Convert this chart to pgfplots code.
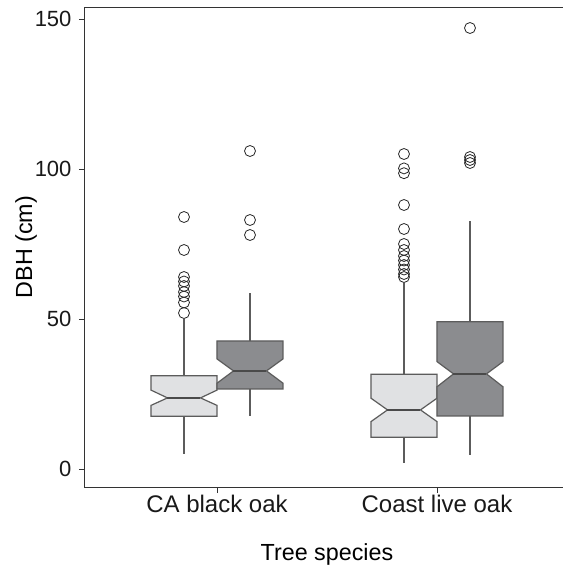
\documentclass[border=0pt]{standalone}
\usepackage{fontspec}
\setmainfont{Liberation Sans}
\usepackage{pgfplots}
\pgfplotsset{compat=1.18}
\definecolor{lightbox}{HTML}{E0E1E3}
\definecolor{darkbox}{HTML}{8B8C8F}
\definecolor{boxedge}{HTML}{5C5C5C}
\definecolor{medc}{HTML}{4A4A4A}
\definecolor{axisc}{HTML}{333333}
\begin{document}
\fontsize{22}{26}\selectfont
\begin{tikzpicture}
\begin{axis}[
  at={(0,0)}, anchor=south west,
  scale only axis, width=484pt, height=480pt,
  xmin=0.4, xmax=2.6, ymin=-6, ymax=154,
  xtick={1,2}, xticklabels={CA black oak, Coast live oak},
  ytick={0,50,100,150},
  tick align=outside, xtick pos=bottom, ytick pos=left,
  major tick length=6pt,
  axis line style={line width=1pt, color=axisc},
  tick style={line width=0.8pt, color=axisc},
  font=\fontsize{22}{26}\selectfont,
  yticklabel style={font=\fontsize{22}{26}\selectfont, color=black!90},
  xticklabel style={font=\fontsize{24}{28}\selectfont, color=black!90, anchor=base, yshift=-19pt},
  /pgf/number format/assume math mode=true,
  xlabel={Tree species}, ylabel={DBH (cm)},
  xlabel style={at={(axis description cs:0.5,0)}, anchor=base, yshift=-73pt, font=\fontsize{23.3}{27}\selectfont},
  ylabel style={at={(axis description cs:-0.1095,0.5)}, anchor=base, rotate=0, font=\fontsize{23.3}{27}\selectfont},
  clip=false,
]
% whiskers
\addplot[draw=boxedge, line width=1.2pt] coordinates {(0.85,31.1) (0.85,50)};
\addplot[draw=boxedge, line width=1.2pt] coordinates {(0.85,17.6) (0.85,5)};
\addplot[draw=boxedge, line width=1.2pt] coordinates {(1.15,42.7) (1.15,58.6)};
\addplot[draw=boxedge, line width=1.2pt] coordinates {(1.15,26.7) (1.15,17.7)};
\addplot[draw=boxedge, line width=1.2pt] coordinates {(1.85,31.6) (1.85,62)};
\addplot[draw=boxedge, line width=1.2pt] coordinates {(1.85,10.6) (1.85,2)};
\addplot[draw=boxedge, line width=1.2pt] coordinates {(2.15,49.1) (2.15,82.8)};
\addplot[draw=boxedge, line width=1.2pt] coordinates {(2.15,17.7) (2.15,4.7)};
% notched boxes
\addplot[fill=lightbox, draw=boxedge, line width=1.2pt] coordinates {(0.70,17.6) (1.00,17.6) (1.00,21.2) (0.925,23.7) (1.00,26.3) (1.00,31.1) (0.70,31.1) (0.70,26.3) (0.775,23.7) (0.70,21.2)} -- cycle;
\addplot[fill=darkbox, draw=boxedge, line width=1.2pt] coordinates {(1.00,26.7) (1.30,26.7) (1.30,28.6) (1.225,32.7) (1.30,36.7) (1.30,42.7) (1.00,42.7) (1.00,36.7) (1.075,32.7) (1.00,28.6)} -- cycle;
\addplot[fill=lightbox, draw=boxedge, line width=1.2pt] coordinates {(1.70,10.6) (2.00,10.6) (2.00,15.8) (1.925,19.7) (2.00,23.6) (2.00,31.6) (1.70,31.6) (1.70,23.6) (1.775,19.7) (1.70,15.8)} -- cycle;
\addplot[fill=darkbox, draw=boxedge, line width=1.2pt] coordinates {(2.00,17.7) (2.30,17.7) (2.30,27.4) (2.225,31.7) (2.30,35.8) (2.30,49.1) (2.00,49.1) (2.00,35.8) (2.075,31.7) (2.00,27.4)} -- cycle;
% medians
\addplot[draw=medc, line width=2pt] coordinates {(0.775,23.7) (0.925,23.7)};
\addplot[draw=medc, line width=2pt] coordinates {(1.075,32.7) (1.225,32.7)};
\addplot[draw=medc, line width=2pt] coordinates {(1.775,19.7) (1.925,19.7)};
\addplot[draw=medc, line width=2pt] coordinates {(2.075,31.7) (2.225,31.7)};
% outliers
\addplot[only marks, mark=o, mark size=5.5pt, mark options={draw=black!85, line width=0.8pt}] coordinates {
 (0.85,52) (0.85,55.5) (0.85,57.5) (0.85,59) (0.85,61) (0.85,62.5) (0.85,64) (0.85,73) (0.85,84)
 (1.15,78) (1.15,83) (1.15,106)
 (1.85,64) (1.85,65) (1.85,66.5) (1.85,68) (1.85,69.5) (1.85,71) (1.85,73) (1.85,75) (1.85,80) (1.85,88) (1.85,98.6) (1.85,100.2) (1.85,105)
 (2.15,102) (2.15,103) (2.15,104) (2.15,147)
};
\end{axis}
\pgfresetboundingbox
\path[use as bounding box] (-85pt,-79pt) rectangle (478pt,487pt);
\end{tikzpicture}
\end{document}
